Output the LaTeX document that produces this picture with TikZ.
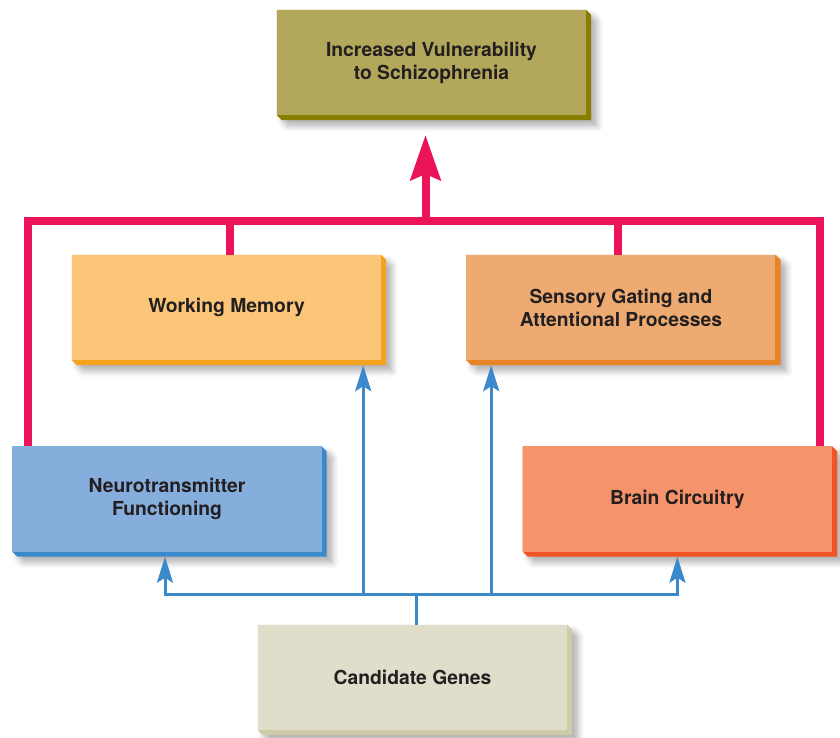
\documentclass[tikz,border=0pt]{standalone}
\usepackage{fontspec}
\setmainfont{TeX Gyre Heros}
\usetikzlibrary{positioning,arrows.meta,backgrounds,shadows.blur}

\definecolor{olivebox}{HTML}{B2A75A}\definecolor{oliveside}{HTML}{8A7E00}
\definecolor{wmbox}{HTML}{FAC576}\definecolor{wmside}{HTML}{F5A21E}
\definecolor{sgbox}{HTML}{EDAB72}\definecolor{sgside}{HTML}{E88326}
\definecolor{ntbox}{HTML}{85AEDC}\definecolor{ntside}{HTML}{3A8ACB}
\definecolor{bcbox}{HTML}{F5936A}\definecolor{bcside}{HTML}{F05522}
\definecolor{cgbox}{HTML}{E0DECA}\definecolor{cgside}{HTML}{CECBA8}
\definecolor{riskred}{HTML}{EC1459}
\definecolor{geneblue}{HTML}{3A8ACB}
\definecolor{inkgray}{HTML}{231F20}

% solid block behind a box: darker sides plus soft shadow
\newcommand\sides[2]{%
  \begin{pgfonlayer}{background}
    \fill[#2, blur shadow={shadow xshift=6pt, shadow yshift=-6pt,
          shadow blur radius=6pt, shadow opacity=30}]
      (#1.north west) -- (#1.north east) -- ([shift={(5pt,-5pt)}]#1.north east)
      -- ([shift={(5pt,-5pt)}]#1.south east) -- ([shift={(5pt,-5pt)}]#1.south west)
      -- (#1.south west) -- cycle;
  \end{pgfonlayer}}

\begin{document}
\begin{tikzpicture}[x=1pt, y=-1pt,
    box/.style={minimum width=309pt, minimum height=105pt,
                inner sep=0pt, align=center, text=inkgray,
                font=\bfseries\fontsize{19.3}{23}\selectfont},
    rise/.style={riskred, line width=8pt},
    feed/.style={geneblue, line width=3pt, shorten >=5pt,
                 -{Stealth[length=26pt, width=16pt, inset=5pt]}}
]
  \useasboundingbox (0,0) rectangle (840,738);

  \node (risk) [box, fill=olivebox] at (431.5,62.5) {Increased Vulnerability\\to Schizophrenia};
  \node (memory) [box, fill=wmbox] at (226.5,307.5) {Working Memory};
  \node (gating) [box, fill=sgbox, right=85pt of memory] {Sensory Gating and\\Attentional Processes};
  \node (neuro) [box, fill=ntbox] at (167,499) {Neurotransmitter\\Functioning};
  \node (brain) [box, fill=bcbox, right=201pt of neuro] {Brain Circuitry};
  \node (genes) [box, fill=cgbox] at (412.5,677.5) {Candidate Genes};

  \sides{risk}{oliveside}
  \sides{memory}{wmside}
  \sides{gating}{sgside}
  \sides{neuro}{ntside}
  \sides{brain}{bcside}
  \sides{genes}{cgside}

  % red bus feeding up into the top box
  \coordinate (bus) at (425.5,221);
  \coordinate (peak) at (425.5,135);
  \draw[rise] ([xshift=16pt]neuro.north west) |- (bus) -| ([xshift=-12pt]brain.north east);
  \draw[rise] ([xshift=3pt]memory.north) -- ([xshift=3pt]memory.north |- bus);
  \draw[rise] ([xshift=-3pt]gating.north) -- ([xshift=-3pt]gating.north |- bus);
  \draw[rise, -{Stealth[length=45pt, width=30pt, inset=6pt]}] (bus) -- (peak);

  % blue tree from the genes
  \coordinate (split) at (416,594);
  \coordinate (wmin) at ([xshift=-18pt]memory.south east);
  \coordinate (sgin) at ([xshift=25pt]gating.south west);
  \draw[geneblue, line width=3pt] (genes.north -| split) -- (split);
  \draw[feed] (split) -| ([xshift=-2pt]neuro.south);
  \draw[feed] (split) -| (brain.south);
  \draw[feed] (split -| wmin) -- (wmin);
  \draw[feed] (split -| sgin) -- (sgin);
\end{tikzpicture}
\end{document}
